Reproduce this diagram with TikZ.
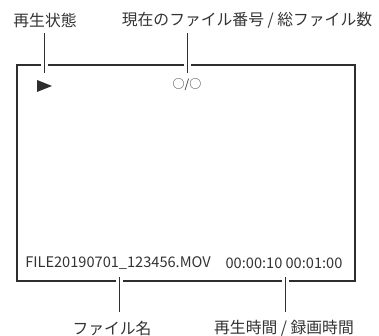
\documentclass[tikz,border=0pt]{standalone}
\usepackage{fontspec}
\setmainfont{Noto Sans CJK JP}
\begin{document}
\begin{tikzpicture}[x=1pt,y=-1pt,
  lbl/.style={inner sep=0pt,text=black!80,font=\fontsize{15.8}{16}\selectfont},
  scr/.style={inner sep=0pt,text=black!80,font=\fontsize{14.6}{15}\selectfont},
  frameline/.style={draw=black!82,line width=2pt},
  leader/.style={draw=black!82,line width=1pt},
  gapline/.style={draw=white,line width=7pt}]
\useasboundingbox (0,0) rectangle (379,336);
% frame
\draw[frameline] (17,65) rectangle (355,281);
% labels
\node[lbl] (n1) at (45,20) {再生状態};
\node[lbl] (n2) at (247,20) {現在のファイル番号 / 総ファイル数};
\node[lbl] (n3) at (112,328) {ファイル名};
\node[lbl] (n4) at (284,328) {再生時間 / 録画時間};
% leader coordinates
\coordinate (a1) at (44,33);  \coordinate (b1) at (44,73);
\coordinate (a2) at (187,33); \coordinate (b2) at (187,73);
\coordinate (a3) at (119,312); \coordinate (b3) at (119,277);
\coordinate (a4) at (285,312); \coordinate (b4) at (285,277);
% gaps in frame
\draw[gapline] (44,61) -- (44,69);
\draw[gapline] (187,61) -- (187,69);
\draw[gapline] (119,277) -- (119,285);
\draw[gapline] (285,277) -- (285,285);
% leaders
\draw[leader] (a1) -- (b1);
\draw[leader] (a2) -- (b2);
\draw[leader] (a3) -- (b3);
\draw[leader] (a4) -- (b4);
% screen content
\fill[black!82] (37,80) -- (52,86) -- (37,92) -- cycle;
\node[scr,font=\fontsize{12}{13}\selectfont] (cnt) at (187,85) {○/○};
\node[scr] (fname) at (118,263) {FILE20190701\_123456.MOV};
\node[scr] (tc) at (284,263) {00:00:10 00:01:00};
\end{tikzpicture}
\end{document}
